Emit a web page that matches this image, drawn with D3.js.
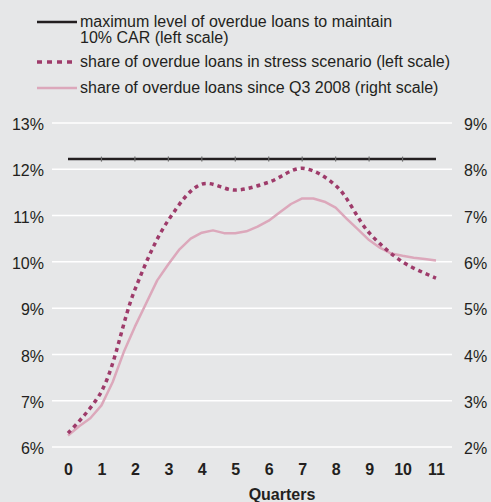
<!DOCTYPE html>
<html>
<head>
<meta charset="utf-8">
<script src="https://cdnjs.cloudflare.com/ajax/libs/d3/7.8.5/d3.min.js"></script>
<style>
body { margin: 0; background: #e6e7e8; }
svg { display: block; font-family: "Liberation Sans", Arial, Helvetica, sans-serif; }
</style>
</head>
<body>
<div id="chart"></div>
<script>
// quarters on the x axis
var quarters = [0, 1, 2, 3, 4, 5, 6, 7, 8, 9, 10, 11];
var leftTicks = [6, 7, 8, 9, 10, 11, 12, 13];
var rightTicks = [2, 3, 4, 5, 6, 7, 8, 9];

// left scale, per quarter
var carLimit = [12.22, 12.22, 12.22, 12.22, 12.22, 12.22, 12.22, 12.22, 12.22, 12.22, 12.22, 12.22];
var stressShare = [6.30, 7.20, 9.40, 10.90, 11.68, 11.55, 11.72, 12.02, 11.65, 10.63, 10.00, 9.65];

// right scale, monthly (three points per quarter)
var actualShare = [2.25, 2.45, 2.62, 2.90, 3.40, 4.05, 4.60, 5.10, 5.60, 5.95,
    6.27, 6.50, 6.63, 6.68, 6.62, 6.62, 6.66, 6.76, 6.89, 7.07,
    7.25, 7.37, 7.37, 7.30, 7.17, 6.93, 6.70, 6.47, 6.30, 6.18,
    6.13, 6.09, 6.06, 6.03];

var legendLabels = [
    ["maximum level of overdue loans to maintain", "10% CAR (left scale)"],
    ["share of overdue loans in stress scenario (left scale)"],
    ["share of overdue loans since Q3 2008 (right scale)"]
];

var width = 491;
var height = 502;
var textColor = "#231f20";
var stressColor = "#9e3b6a";
var actualColor = "#dca8bb";

var svg = d3.select("#chart")
    .append("svg")
    .attr("width", width)
    .attr("height", height);

svg.append("rect")
    .attr("width", width)
    .attr("height", height)
    .attr("fill", "#e6e7e8");

var x = d3.scaleLinear().domain([0, 11]).range([68, 436]);
var yLeft = d3.scaleLinear().domain([6, 13]).range([447, 123]);
var yRight = d3.scaleLinear().domain([2, 9]).range([447, 123]);

// gridlines
svg.append("g")
    .selectAll("line")
    .data(leftTicks)
    .join("line")
    .attr("x1", 52)
    .attr("x2", 452)
    .attr("y1", d => yLeft(d))
    .attr("y2", d => yLeft(d))
    .attr("stroke", "#fff")
    .attr("stroke-width", 1.5);

// axes
var leftAxis = svg.append("g")
    .attr("transform", "translate(52,1.5)")
    .call(d3.axisLeft(yLeft).tickValues(leftTicks).tickFormat(d => d + "%").tickSize(0).tickPadding(8));

var rightAxis = svg.append("g")
    .attr("transform", "translate(452,1.5)")
    .call(d3.axisRight(yRight).tickValues(rightTicks).tickFormat(d => d + "%").tickSize(0).tickPadding(12));

var bottomAxis = svg.append("g")
    .attr("transform", "translate(0,447)")
    .call(d3.axisBottom(x).tickValues(quarters).tickFormat(d3.format("d")).tickSize(0).tickPadding(17));

[leftAxis, rightAxis, bottomAxis].forEach(function(ax) {
    ax.select(".domain").remove();
    ax.selectAll("text")
        .attr("fill", textColor)
        .style("font-size", "16px");
});
bottomAxis.selectAll("text").style("font-weight", "bold");

svg.append("text")
    .attr("x", 282)
    .attr("y", 500)
    .attr("text-anchor", "middle")
    .attr("fill", textColor)
    .style("font-size", "16px")
    .style("font-weight", "bold")
    .text("Quarters");

// lines
var actualLine = d3.line()
    .x((d, i) => x(i / 3))
    .y(d => yRight(d));

svg.append("path")
    .datum(actualShare)
    .attr("d", actualLine)
    .attr("fill", "none")
    .attr("stroke", actualColor)
    .attr("stroke-width", 2.5)
    .attr("stroke-linejoin", "round");

var stressLine = d3.line()
    .x((d, i) => x(quarters[i]))
    .y(d => yLeft(d))
    .curve(d3.curveCatmullRom.alpha(0.5));

svg.append("path")
    .datum(stressShare)
    .attr("d", stressLine)
    .attr("fill", "none")
    .attr("stroke", stressColor)
    .attr("stroke-width", 3.5)
    .attr("stroke-dasharray", "4,4");

var carLine = d3.line()
    .x((d, i) => x(quarters[i]))
    .y(d => yLeft(d));

svg.append("path")
    .datum(carLimit)
    .attr("d", carLine)
    .attr("fill", "none")
    .attr("stroke", textColor)
    .attr("stroke-width", 2.5);

// little markers on the CAR line
svg.append("g")
    .selectAll("line")
    .data(carLimit.slice(1, -1))
    .join("line")
    .attr("x1", (d, i) => x(quarters[i + 1]))
    .attr("x2", (d, i) => x(quarters[i + 1]))
    .attr("y1", d => yLeft(d) - 2.5)
    .attr("y2", d => yLeft(d) + 2.5)
    .attr("stroke", "#6d6d6d")
    .attr("stroke-width", 1.2);

// legend
var legend = svg.append("g");
var legendRows = [
    { y: 22, textY: 27, color: textColor, width: 2.5, dash: null },
    { y: 62, textY: 67, color: stressColor, width: 3.5, dash: "5,5" },
    { y: 88, textY: 93, color: actualColor, width: 2.5, dash: null }
];

legendRows.forEach(function(row, i) {
    legend.append("line")
        .attr("x1", 37)
        .attr("x2", 77)
        .attr("y1", row.y)
        .attr("y2", row.y)
        .attr("stroke", row.color)
        .attr("stroke-width", row.width)
        .attr("stroke-dasharray", row.dash);

    var t = legend.append("text")
        .attr("x", 80)
        .attr("y", row.textY)
        .attr("fill", textColor)
        .style("font-size", "16px");
    legendLabels[i].forEach(function(line, j) {
        t.append("tspan")
            .attr("x", 80)
            .attr("dy", j === 0 ? 0 : 15.5)
            .text(line);
    });
});
</script>
</body>
</html>
